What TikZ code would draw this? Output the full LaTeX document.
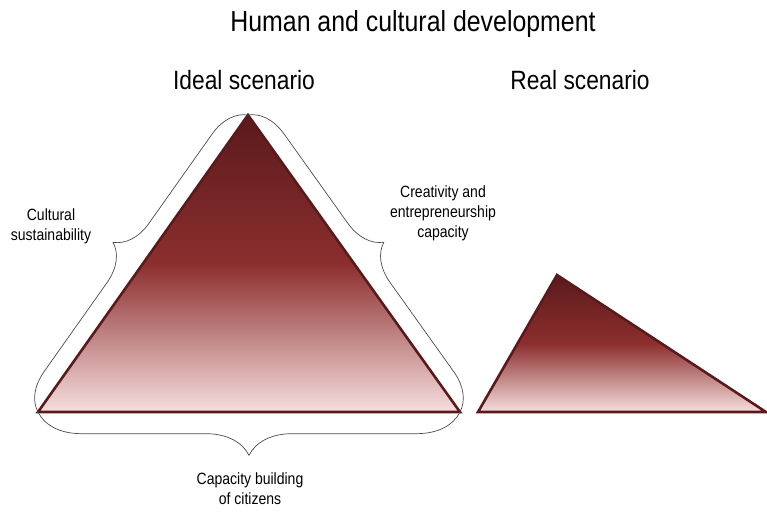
\documentclass[tikz,border=0pt]{standalone}
\usepackage{fontspec}
\setmainfont[FakeStretch=0.86]{Liberation Sans}
\usetikzlibrary{decorations.pathreplacing}
\definecolor{marr}{RGB}{90,26,28}
\definecolor{redm}{RGB}{140,46,46}
\definecolor{pinkb}{RGB}{246,222,222}
\colorlet{brc}{black!70}
\tikzset{
    tri/.style={draw=marr,line width=2.2pt,top color=marr,bottom color=pinkb,middle color=redm},
    brce/.style={draw=brc,line width=0.6pt,decorate,decoration={brace,amplitude=#1}},
    head/.style={anchor=base,font=\fontsize{24.7}{30}\selectfont},
    sub/.style={anchor=base,font=\fontsize{22.6}{27}\selectfont},
    lbl/.style={align=center,inner sep=0pt,font=\fontsize{13.9}{17}\selectfont}
}
\begin{document}
\begin{tikzpicture}[x=0.03cm,y=-0.03cm]
    \useasboundingbox (0,0) rectangle (767,512);
    % triangle corners
    \coordinate (ia) at (248,115);
    \coordinate (ib) at (38,412);
    \coordinate (ic) at (460,412);
    \coordinate (ra) at (557,275);
    \coordinate (rb) at (478,412);
    \coordinate (rc) at (766,412);
    \draw [tri] (ib) -- (ia) -- (ic) -- cycle;
    \draw [tri] (rb) -- (ra) -- (rc) -- cycle;
    % braces
    \draw [brce=1.1cm] (ib) -- (ia);
    \draw [brce=1.1cm] (ia) -- (ic);
    \draw [brce=1.3cm] (ic) -- (ib);
    % texts
    \node [head] (title) at (413,32) {Human and cultural development};
    \node [sub] (ideal) at (244,90) {Ideal scenario};
    \node [sub] (real) at (580,90) {Real scenario};
    \node [lbl] (cult) at (51,226) {Cultural\\sustainability};
    \node [lbl] (crea) at (443,213) {Creativity and\\entrepreneurship\\capacity};
    \node [lbl] (capa) at (250,489) {Capacity building\\of citizens};
\end{tikzpicture}
\end{document}
